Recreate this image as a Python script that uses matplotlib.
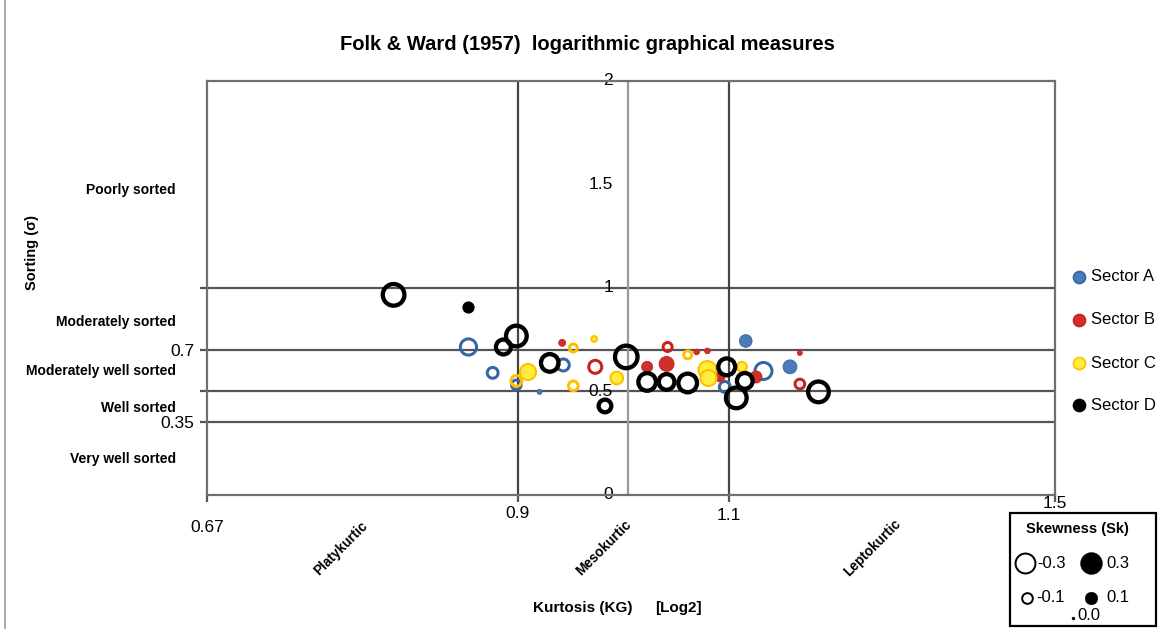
import matplotlib
matplotlib.use('Agg')
import matplotlib.pyplot as plt
import numpy as np
from matplotlib.lines import Line2D
from matplotlib.patches import Rectangle

plt.rcParams['font.family'] = ['Liberation Sans', 'DejaVu Sans']

# ---------------- data ----------------
sectors = ['Sector A', 'Sector B', 'Sector C', 'Sector D']

a_kurt = [0.859, 0.879, 0.899, 0.919, 0.940, 1.118, 1.137, 1.166, 1.096]
a_sort = [0.713, 0.588, 0.530, 0.496, 0.626, 0.742, 0.597, 0.617, 0.520]
a_skew = [-0.23, -0.12, -0.10, 0.015, -0.14, 0.10, -0.25, 0.12, -0.12]

b_kurt = [0.939, 0.969, 1.018, 1.037, 1.038, 1.067, 1.078, 1.091, 1.129, 1.177, 1.177]
b_sort = [0.733, 0.617, 0.617, 0.631, 0.713, 0.689, 0.694, 0.568, 0.568, 0.684, 0.534]
b_skew = [0.03, -0.16, 0.076, 0.14, -0.09, 0.02, 0.02, 0.06, 0.09, 0.015, -0.10]

c_kurt = [0.909, 0.899, 0.949, 0.949, 0.968, 0.989, 1.058, 1.078, 1.079, 1.114]
c_sort = [0.592, 0.549, 0.708, 0.525, 0.752, 0.563, 0.675, 0.602, 0.563, 0.617]
c_skew = [0.16, -0.12, -0.075, -0.10, 0.02, 0.10, -0.075, 0.20, 0.16, 0.06]

d_kurt = [0.800, 0.859, 0.888, 0.899, 0.928, 0.978, 0.998, 1.018, 1.037, 1.058, 1.098, 1.117, 1.108, 1.198]
d_sort = [0.965, 0.907, 0.713, 0.766, 0.636, 0.428, 0.665, 0.544, 0.544, 0.539, 0.617, 0.549, 0.467, 0.496]
d_skew = [-0.42, 0.08, -0.23, -0.39, -0.30, -0.18, -0.45, -0.30, -0.25, -0.33, -0.28, -0.25, -0.39, -0.39]

x_ticks = [0.67, 0.9, 1.1, 1.5]
x_tick_labels = ['0.67', '0.9', '1.1', '1.5']
y_center_ticks = [0, 0.5, 1, 1.5, 2]
y_center_labels = ['0', '0.5', '1', '1.5', '2']
sorting_bounds = [0.35, 0.5, 0.7, 1.0]
sorting_bound_labels = ['0.35', '', '0.7', '']
kurtosis_bounds = [0.9, 1.1]
sorting_classes = ['Poorly sorted', 'Moderately sorted', 'Moderately well sorted',
                   'Well sorted', 'Very well sorted']
kurtosis_classes = ['Platykurtic', 'Mesokurtic', 'Leptokurtic']
legend_skew_values = [-0.3, 0.3, -0.1, 0.1, 0.0]
legend_skew_labels = ['-0.3', '0.3', '-0.1', '0.1', '0.0']

# ---------------- styling ----------------
W, H = 1168, 629
DPI = 100
PT = 72.0 / DPI  # points per pixel

edge_col = {'Sector A': '#3465a4', 'Sector B': '#c9211e', 'Sector C': '#ffbf00', 'Sector D': '#000000'}
face_col = {'Sector A': '#4a7bb7', 'Sector B': '#d0302c', 'Sector C': '#ffee40', 'Sector D': '#000000'}
ring_lw_px = {'Sector A': 3.0, 'Sector B': 3.0, 'Sector C': 3.0, 'Sector D': 4.3}


def diam_px(sk):
    return max(40.0 * np.sqrt(abs(sk)), 3.0)


fig = plt.figure(figsize=(W / DPI, H / DPI), dpi=DPI)
fig.patch.set_facecolor('white')


def fx(px):
    return px / W


def fy(py):
    return 1 - py / H


ax = fig.add_axes([fx(207), fy(494.5), fx(1055) - fx(207), fy(80.7) - fy(494.5)])
ax.set_xscale('log', base=2)
ax.set_xlim(0.67, 1.5)
ax.set_ylim(0, 2)

for sp in ax.spines.values():
    sp.set_color('#707070')
    sp.set_linewidth(1.6)

# grid / class boundary lines
for v in sorting_bounds:
    ax.axhline(v, color='#555555', lw=1.6, zorder=1)
for v in kurtosis_bounds:
    ax.axvline(v, color='#444444', lw=1.6, zorder=1)
ax.axvline(1.0, color='#9a9a9a', lw=1.6, zorder=1)

# ticks
ax.set_xticks(x_ticks)
ax.set_xticklabels([''] * len(x_ticks))
ax.xaxis.set_minor_locator(matplotlib.ticker.NullLocator())
ax.set_yticks(sorting_bounds)
ax.set_yticklabels(sorting_bound_labels, fontsize=12.5)
ax.tick_params(axis='both', direction='out', length=5, width=1.6, color='#555555', pad=3)
ax.tick_params(axis='y', labelsize=12.5, pad=4)

# x tick labels (staggered as in original)
x_label_offsets = [-24, -14, -15, -6.5]
for v, lab, off in zip(x_ticks, x_tick_labels, x_label_offsets):
    ax.annotate(lab, xy=(v, 0), xycoords=('data', 'axes fraction'), xytext=(0, off),
                textcoords='offset points', ha='center', va='center', fontsize=12.5,
                annotation_clip=False)

# y values along the central axis
for v, lab in zip(y_center_ticks, y_center_labels):
    ax.annotate(lab, xy=(1.0, v), xytext=(-11, 0), textcoords='offset points',
                ha='right', va='center', fontsize=12.5, annotation_clip=False, zorder=2)

# data
series = [(a_kurt, a_sort, a_skew), (b_kurt, b_sort, b_skew),
          (c_kurt, c_sort, c_skew), (d_kurt, d_sort, d_skew)]
for z, (name, (kx, sy, sk)) in enumerate(zip(sectors, series)):
    kx = np.array(kx); sy = np.array(sy); sk = np.array(sk)
    neg = sk < 0
    pos = ~neg
    lw = ring_lw_px[name]
    d_ring = np.array([diam_px(s) - lw for s in sk[neg]])
    ax.scatter(kx[neg], sy[neg], s=(d_ring * PT) ** 2, facecolors='none',
               edgecolors=edge_col[name], linewidths=lw * PT, zorder=3 + z)
    d_fill = np.array([diam_px(s) for s in sk[pos]])
    ax.scatter(kx[pos], sy[pos], s=(d_fill * PT) ** 2, facecolors=face_col[name],
               edgecolors=edge_col[name], linewidths=1.5 if name == 'Sector C' else 0.6,
               zorder=3 + z)

# ---------------- texts ----------------
fig.text(fx(587), fy(45), 'Folk & Ward (1957)  logarithmic graphical measures',
         ha='center', va='center', fontsize=14.5, fontweight='bold')

fig.text(fx(32), fy(252), 'Sorting (σ)', rotation=90, ha='center', va='center',
         fontsize=10.5, fontweight='bold')

sort_y = [190, 322, 371, 408, 459]
for lab, py in zip(sorting_classes, sort_y):
    fig.text(fx(176), fy(py), lab, ha='right', va='center', fontsize=10, fontweight='bold')

kurt_xy = [(341, 548), (604, 548), (872, 548)]
for lab, (px, py) in zip(kurtosis_classes, kurt_xy):
    fig.text(fx(px), fy(py), lab, ha='center', va='center', rotation=45,
             rotation_mode='anchor', fontsize=9.8, fontweight='bold')

fig.text(fx(533), fy(608), 'Kurtosis (KG)', ha='left', va='center', fontsize=11, fontweight='bold')
fig.text(fx(655), fy(608), '[Log2]', ha='left', va='center', fontsize=11, fontweight='bold')

# ---------------- sector legend ----------------
leg_y = [277, 320, 363, 405]
for name, py in zip(sectors, leg_y):
    fig.add_artist(Line2D([fx(1079)], [fy(py)], transform=fig.transFigure, marker='o',
                          markersize=12 * PT, markerfacecolor=face_col[name],
                          markeredgecolor=edge_col[name], markeredgewidth=1.2, linestyle='none'))
    fig.text(fx(1091), fy(py), name, ha='left', va='center', fontsize=12)

# ---------------- skewness size legend ----------------
fig.add_artist(Rectangle((fx(1010), fy(626)), fx(1156) - fx(1010), fy(513) - fy(626),
                         transform=fig.transFigure, fill=False, edgecolor='black', lw=1.6))
fig.text(fx(1077), fy(529), 'Skewness (Sk)', ha='center', va='center', fontsize=10.5,
         fontweight='bold')
leg_pos = [(1025, 563), (1091, 563), (1027, 598), (1091, 598), (1073, 618)]
leg_txt = [(1037, 563), (1106, 563), (1036, 598), (1106, 598), (1077, 616)]
for v, lab, (px, py), (tx, ty) in zip(legend_skew_values, legend_skew_labels, leg_pos, leg_txt):
    d = diam_px(v)
    if v < 0:
        fig.add_artist(Line2D([fx(px)], [fy(py)], transform=fig.transFigure, marker='o',
                              markersize=(d - 2) * PT, markerfacecolor='white',
                              markeredgecolor='black', markeredgewidth=2 * PT, linestyle='none'))
    else:
        fig.add_artist(Line2D([fx(px)], [fy(py)], transform=fig.transFigure, marker='o',
                              markersize=d * PT, markerfacecolor='black',
                              markeredgecolor='black', markeredgewidth=0.3, linestyle='none'))
    fig.text(fx(tx), fy(ty), lab, ha='left', va='center', fontsize=12)

# outer frame line on the left
fig.add_artist(Line2D([fx(5), fx(5)], [0, 1], transform=fig.transFigure, color='#9a9a9a', lw=1.2))

fig.savefig('out.png', dpi=DPI)
